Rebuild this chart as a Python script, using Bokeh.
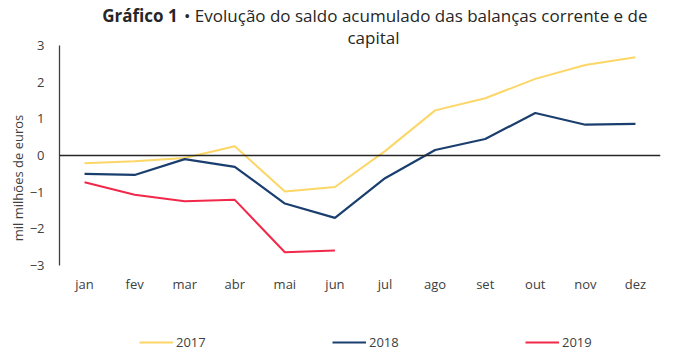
from bokeh.plotting import figure
from bokeh.models import Span, Label, Legend, LegendItem, FixedTicker
from bokeh.embed import file_html
from bokeh.resources import INLINE

months = ["jan", "fev", "mar", "abr", "mai", "jun", "jul", "ago", "set", "out", "nov", "dez"]
y2017 = [-0.21, -0.16, -0.07, 0.25, -0.98, -0.86, 0.12, 1.23, 1.56, 2.09, 2.47, 2.68]
y2018 = [-0.50, -0.53, -0.10, -0.31, -1.31, -1.70, -0.62, 0.15, 0.45, 1.16, 0.84, 0.86]
y2019 = [-0.73, -1.07, -1.25, -1.21, -2.64, -2.59]
yticks = [-3, -2, -1, 0, 1, 2, 3]

FONT = "Open Sans"
TXT = "#404040"

# The frame covers the whole canvas height so that title and legend (drawn as
# annotations) are not clipped; the y axis only spans -3..3.
W, H = 680, 355
PX = 220 / 6.0          # pixels per unit
TOP3 = 45               # pixel row of y = 3
Y_TOP = 3 + TOP3 / PX
Y_BOT = 3 - (H - TOP3) / PX

p = figure(width=W, height=H, x_range=months, y_range=(Y_BOT, Y_TOP),
           output_backend="svg", toolbar_location=None,
           min_border_left=59, min_border_right=20, min_border_top=0, min_border_bottom=0)
p.outline_line_color = None
p.grid.visible = False
p.background_fill_color = "white"
p.border_fill_color = "white"

# y axis
p.yaxis.bounds = (-3, 3)
p.yaxis.ticker = FixedTicker(ticks=yticks)
p.yaxis.axis_label = "mil milhões de euros"
p.yaxis.axis_label_text_font = FONT
p.yaxis.axis_label_text_font_style = "normal"
p.yaxis.axis_label_text_font_size = "13px"
p.yaxis.axis_label_text_color = TXT
p.yaxis.axis_label_standoff = 0
p.yaxis.major_label_text_font = FONT
p.yaxis.major_label_text_font_size = "13px"
p.yaxis.major_label_text_color = TXT
p.yaxis.major_label_standoff = 15
p.yaxis.major_tick_line_color = None
p.yaxis.minor_tick_line_color = None
p.yaxis.major_tick_out = 0
p.yaxis.major_tick_in = 0
p.yaxis.axis_line_color = "#404040"
p.yaxis.axis_line_width = 1.3

# x axis (month labels) drawn just under y = -3
p.xaxis.fixed_location = -3 - 9 / PX
p.xaxis.axis_line_color = None
p.xaxis.major_tick_line_color = None
p.xaxis.minor_tick_line_color = None
p.xaxis.major_tick_out = 0
p.xaxis.major_tick_in = 0
p.xaxis.major_label_text_font = FONT
p.xaxis.major_label_text_font_size = "13px"
p.xaxis.major_label_text_color = TXT
p.xaxis.major_label_standoff = 0

p.add_layout(Span(location=0, dimension="width", line_color="#262626", line_width=1.3))

r17 = p.line(months, y2017, line_color="#FCD666", line_width=2)
r18 = p.line(months, y2018, line_color="#1A3F6F", line_width=2.2)
r19 = p.line(months[:len(y2019)], y2019, line_color="#F2284B", line_width=2)

legend = Legend(items=[LegendItem(label="2017", renderers=[r17]),
                       LegendItem(label="2018", renderers=[r18]),
                       LegendItem(label="2019", renderers=[r19])],
                orientation="horizontal", location=(80, 4),
                glyph_width=34, glyph_height=12, label_height=12, label_width=120,
                label_standoff=3, spacing=36, padding=0, margin=0,
                label_text_font=FONT, label_text_font_size="13px", label_text_color=TXT,
                border_line_color=None, background_fill_alpha=0)
p.add_layout(legend)

# title (positions in px from the frame's bottom-left corner)
p.add_layout(Label(x=42.7, y=H - 15, x_units="screen", y_units="screen", text="Gráfico 1",
                   text_font=FONT, text_font_style="bold", text_font_size="17px",
                   text_color="#262626", text_align="left", text_baseline="middle"))
p.add_layout(Label(x=588, y=H - 15, x_units="screen", y_units="screen",
                   text="• Evolução do saldo acumulado das balanças corrente e de",
                   text_font=FONT, text_font_size="17px",
                   text_color="#262626", text_align="right", text_baseline="middle"))
p.add_layout(Label(x=314, y=H - 37, x_units="screen", y_units="screen", text="capital",
                   text_font=FONT, text_font_size="17px",
                   text_color="#262626", text_align="center", text_baseline="middle"))

open("out.html", "w").write(file_html(p, INLINE))
